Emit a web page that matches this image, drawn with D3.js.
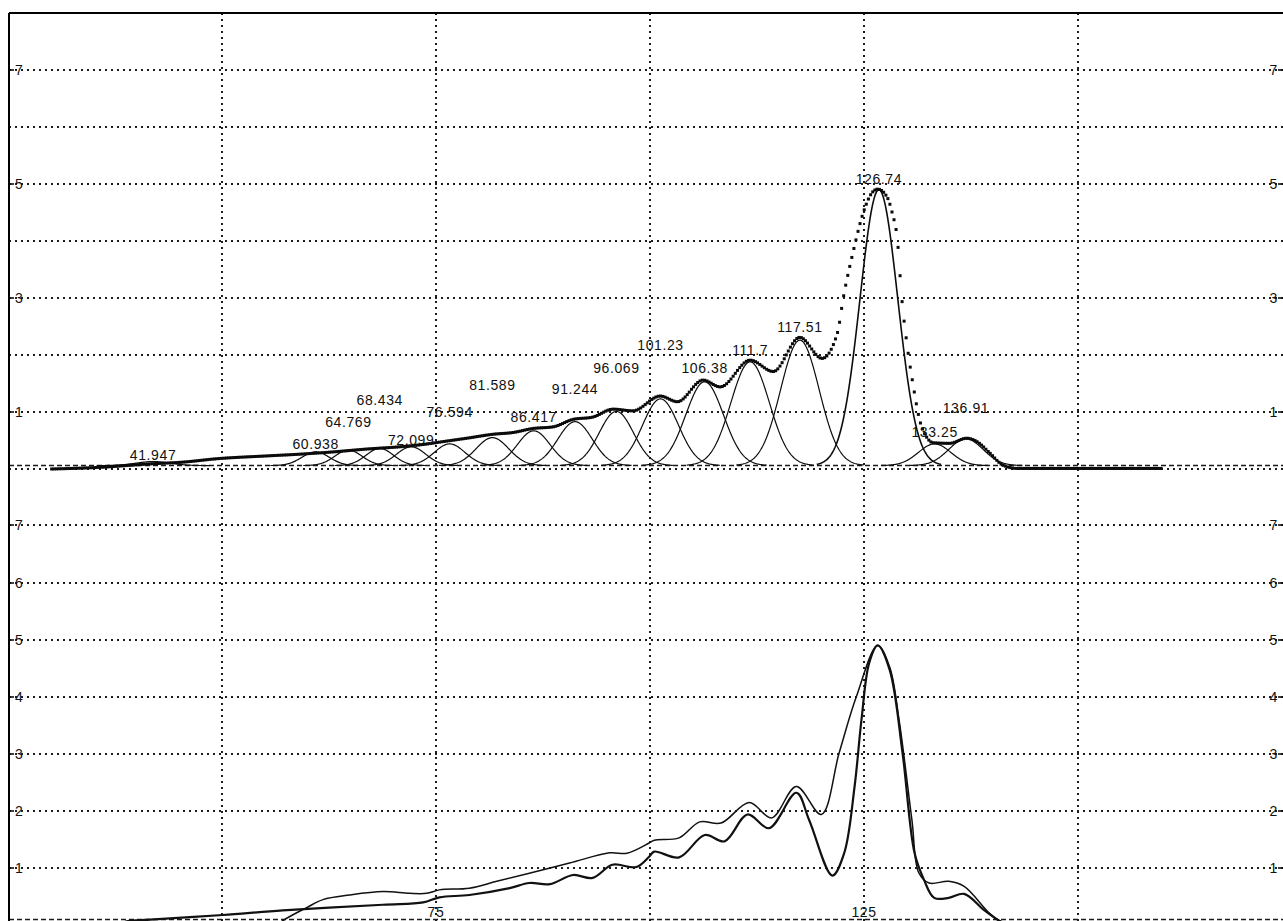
<!DOCTYPE html>
<html>
<head>
<meta charset="utf-8">
<script src="https://cdn.jsdelivr.net/npm/d3@7"></script>
<style>
  html, body { margin: 0; padding: 0; background: #fff; }
  svg { display: block; }
  text { font-family: "Liberation Sans", Arial, sans-serif; font-size: 14px; fill: #111; letter-spacing: 0.6px; }
</style>
</head>
<body>
<svg id="chart" width="1283" height="921"></svg>
<script>
// ---- Upper panel: fitted peak components ----
const peakCenters = [41.947, 60.938, 64.769, 68.434, 72.099, 76.594, 81.589, 86.417, 91.244,
                     96.069, 101.23, 106.38, 111.7, 117.51, 126.74, 133.25, 136.91];
const peakHeights = [0.07, 0.24, 0.27, 0.30, 0.33, 0.38, 0.49, 0.61, 0.77,
                     0.95, 1.17, 1.47, 1.82, 2.20, 4.84, 0.38, 0.47];
const peakSigmas  = [2.0, 1.6, 1.6, 1.6, 1.7, 1.8, 1.9, 1.9, 2.0,
                     2.0, 2.1, 2.2, 2.25, 2.25, 2.2, 1.9, 2.0];
const fitBaseline = 0.06;
const lowerBaseline = 0.1;

// Measured profile in the upper panel [x, value]
const measured = [
  [30.1, 0.0], [35.8, 0.03], [41.6, 0.09], [45.4, 0.12], [49.4, 0.18], [55.3, 0.23], [59.1, 0.26],
  [63.0, 0.30], [66.9, 0.35], [70.8, 0.39], [74.0, 0.44], [75.8, 0.48], [78.6, 0.54], [81.7, 0.61],
  [84.0, 0.64], [86.3, 0.71], [88.7, 0.74], [91.0, 0.87], [93.3, 0.91], [95.7, 1.05], [98.0, 1.02],
  [101.2, 1.28], [103.2, 1.18], [106.2, 1.56], [108.2, 1.44], [111.7, 1.91], [114.4, 1.71],
  [117.5, 2.31], [120.1, 1.94], [121.9, 2.39], [122.6, 3.02], [123.7, 3.79], [124.9, 4.49],
  [125.9, 4.84], [126.6, 4.91], [127.7, 4.77], [128.3, 4.49], [128.9, 4.02], [129.4, 3.02],
  [130.0, 2.21], [130.7, 1.51], [131.5, 0.86], [132.4, 0.54], [133.1, 0.46], [135.0, 0.45],
  [137.0, 0.54], [138.2, 0.48], [139.7, 0.28], [141.2, 0.07], [142.9, 0.01], [159.9, 0.01]
];

// ---- Lower panel: two overlaid spectra [x, value] ----
const spectrumA = [
  [56.5, 0.0], [57.1, 0.08], [59.9, 0.31], [61.8, 0.45], [64.9, 0.53], [68.8, 0.59], [71.9, 0.56],
  [73.9, 0.56], [75.4, 0.62], [78.9, 0.65], [82.1, 0.77], [85.9, 0.91], [90.6, 1.09], [95.3, 1.27],
  [97.3, 1.26], [99.9, 1.44], [100.5, 1.49], [103.4, 1.53], [105.8, 1.81], [108.3, 1.79],
  [111.6, 2.15], [114.2, 1.88], [117.1, 2.43], [120.0, 1.94], [122.1, 3.02], [124.1, 4.0],
  [126.6, 4.9], [128.0, 4.52], [129.1, 3.59], [130.6, 1.84], [131.4, 0.92], [132.6, 0.74],
  [134.9, 0.77], [136.7, 0.68], [139.6, 0.22], [140.8, 0.08], [142.0, 0.0]
];
const spectrumB = [
  [38.0, 0.0], [38.9, 0.07], [41.6, 0.1], [50.1, 0.18], [57.1, 0.26], [68.8, 0.36], [73.5, 0.4],
  [75.4, 0.49], [78.9, 0.53], [83.6, 0.65], [85.9, 0.74], [88.3, 0.72], [91.0, 0.88], [93.3, 0.83],
  [95.6, 1.06], [98.4, 1.02], [99.9, 1.2], [100.5, 1.29], [103.4, 1.19], [106.4, 1.58],
  [108.7, 1.47], [111.4, 1.94], [113.9, 1.7], [117.1, 2.32], [118.6, 1.84], [121.3, 0.87],
  [122.7, 1.27], [123.9, 2.43], [124.7, 3.59], [125.6, 4.59], [126.6, 4.9], [128.0, 4.47],
  [129.5, 3.02], [130.9, 1.27], [132.0, 0.8], [133.2, 0.48], [134.9, 0.48], [136.7, 0.55],
  [139.0, 0.27], [140.8, 0.08], [142.0, 0.0]
];

// ---- Axis ticks ----
const xGrid = [50, 75, 100, 125, 150];
const xTickLabels = [75, 125];
const upperGrid = [0, 1, 2, 3, 4, 5, 6, 7];
const upperTickLabels = [1, 3, 5, 7];
const lowerGrid = [1, 2, 3, 4, 5, 6, 7];
const lowerTickLabels = [1, 2, 3, 4, 5, 6, 7];

// ---- Layout (layout only, not data) ----
const frame = { left: 9, right: 1284, top: 13, bottom: 921 };
// vertical position of each peak label, in upper-panel value units
const peakLabelLevels = [0.16, 0.35, 0.74, 1.12, 0.42, 0.92, 1.39, 0.83, 1.32,
                         1.68, 2.08, 1.68, 2.0, 2.4, 5.0, 0.56, 0.98];

const svg = d3.select("#chart");
const x = d3.scaleLinear().domain([25, 175]).range([8, 1292]);
const yTop = d3.scaleLinear().domain([0, 8]).range([469, 13]);
const yBot = d3.scaleLinear().domain([0, 8]).range([925.3, 468.3]);

svg.append("defs").append("clipPath").attr("id", "plotClip")
  .append("rect")
  .attr("x", frame.left).attr("y", frame.top)
  .attr("width", frame.right - frame.left).attr("height", frame.bottom - frame.top);

const grid = svg.append("g").attr("class", "grid");
const dotStyle = sel => sel.attr("stroke", "#1c1c1c").attr("stroke-width", 2)
  .attr("stroke-dasharray", "2 4").attr("fill", "none");

// vertical dotted grid
grid.selectAll("line.v").data(xGrid).join("line").attr("class", "v")
  .attr("x1", d => Math.round(x(d))).attr("x2", d => Math.round(x(d)))
  .attr("y1", frame.top).attr("y2", frame.bottom)
  .call(dotStyle);

// horizontal dotted grid, both panels
grid.selectAll("line.hu").data(upperGrid).join("line").attr("class", "hu")
  .attr("x1", frame.left).attr("x2", frame.right)
  .attr("y1", d => Math.round(yTop(d))).attr("y2", d => Math.round(yTop(d)))
  .call(dotStyle);
grid.selectAll("line.hl").data(lowerGrid).join("line").attr("class", "hl")
  .attr("x1", frame.left).attr("x2", frame.right)
  .attr("y1", d => Math.round(yBot(d))).attr("y2", d => Math.round(yBot(d)))
  .call(dotStyle);

// dashed fit baselines
[yTop(fitBaseline), yBot(lowerBaseline)].forEach(yy => {
  grid.append("line")
    .attr("x1", frame.left).attr("x2", frame.right)
    .attr("y1", yy).attr("y2", yy)
    .attr("stroke", "#1a1a1a").attr("stroke-width", 1.5)
    .attr("stroke-dasharray", "5 3");
});

// y tick labels on both sides
function yLabels(values, scale, cls) {
  const g = svg.append("g").attr("class", cls);
  values.forEach(v => {
    const yy = Math.round(scale(v));
    g.append("line").attr("x1", frame.left).attr("x2", frame.left + 5)
      .attr("y1", yy).attr("y2", yy).attr("stroke", "#111").attr("stroke-width", 1.6);
    g.append("text").attr("x", frame.left + 6).attr("y", yy).attr("dy", "0.36em")
      .attr("text-anchor", "start").text(v);
    g.append("line").attr("x1", frame.right - 6).attr("x2", frame.right)
      .attr("y1", yy).attr("y2", yy).attr("stroke", "#111").attr("stroke-width", 1.6);
    g.append("text").attr("x", frame.right - 6).attr("y", yy).attr("dy", "0.36em")
      .attr("text-anchor", "end").text(v);
  });
}
yLabels(upperTickLabels, yTop, "upper-ticks");
yLabels(lowerTickLabels, yBot, "lower-ticks");

// x tick labels at the foot of the lower panel
svg.append("g").selectAll("text").data(xTickLabels).join("text")
  .attr("x", d => x(d)).attr("y", 916.5).attr("text-anchor", "middle").text(d => d);

const plot = svg.append("g").attr("clip-path", "url(#plotClip)");

// Gaussian peak components of the fit
const compLine = d3.line().x(d => x(d[0])).y(d => yTop(d[1])).curve(d3.curveLinear);
peakCenters.forEach((c, i) => {
  const h = peakHeights[i], s = peakSigmas[i];
  const pts = d3.range(c - 3.3 * s, c + 3.3 * s + 1e-9, s / 25)
    .map(u => [u, fitBaseline + h * Math.exp(-((u - c) ** 2) / (2 * s * s))]);
  plot.append("path").attr("d", compLine(pts))
    .attr("fill", "none").attr("stroke", "#0d0d0d")
    .attr("stroke-width", i === 14 ? 1.6 : 1.2);
});

// Measured profile: drawn as a run of square markers at a fixed horizontal step,
// which merge into a solid trace on gentle slopes and separate on steep flanks.
const measLine = d3.line().x(d => x(d[0])).y(d => yTop(d[1])).curve(d3.curveMonotoneX);
const guide = plot.append("path").attr("d", measLine(measured))
  .attr("fill", "none").attr("stroke", "none");
const node = guide.node();
const total = node.getTotalLength();
const marks = [];
let lastX = -Infinity;
for (let s = 0; s <= total; s += 0.4) {
  const p = node.getPointAtLength(s);
  if (p.x - lastX >= 2.0) { marks.push([p.x, p.y]); lastX = p.x; }
}
plot.append("g").selectAll("rect").data(marks).join("rect")
  .attr("x", d => d[0] - 1.5).attr("y", d => d[1] - 1.5)
  .attr("width", 3).attr("height", 3).attr("fill", "#0a0a0a");

// peak position labels
svg.append("g").selectAll("text").data(peakCenters).join("text")
  .attr("x", d => x(d)).attr("y", (d, i) => yTop(peakLabelLevels[i]))
  .attr("text-anchor", "middle").text(d => d);

// lower panel spectra
const specLine = d3.line().x(d => x(d[0])).y(d => yBot(d[1])).curve(d3.curveCatmullRom.alpha(0.5));
plot.append("path").attr("d", specLine(spectrumA))
  .attr("fill", "none").attr("stroke", "#111").attr("stroke-width", 1.5);
plot.append("path").attr("d", specLine(spectrumB))
  .attr("fill", "none").attr("stroke", "#111").attr("stroke-width", 2.2);

// frame: top and left borders
svg.append("line").attr("x1", frame.left).attr("x2", frame.right)
  .attr("y1", frame.top).attr("y2", frame.top).attr("stroke", "#000").attr("stroke-width", 2);
svg.append("line").attr("x1", frame.left).attr("x2", frame.left)
  .attr("y1", frame.top).attr("y2", frame.bottom).attr("stroke", "#000").attr("stroke-width", 2);
</script>
</body>
</html>
